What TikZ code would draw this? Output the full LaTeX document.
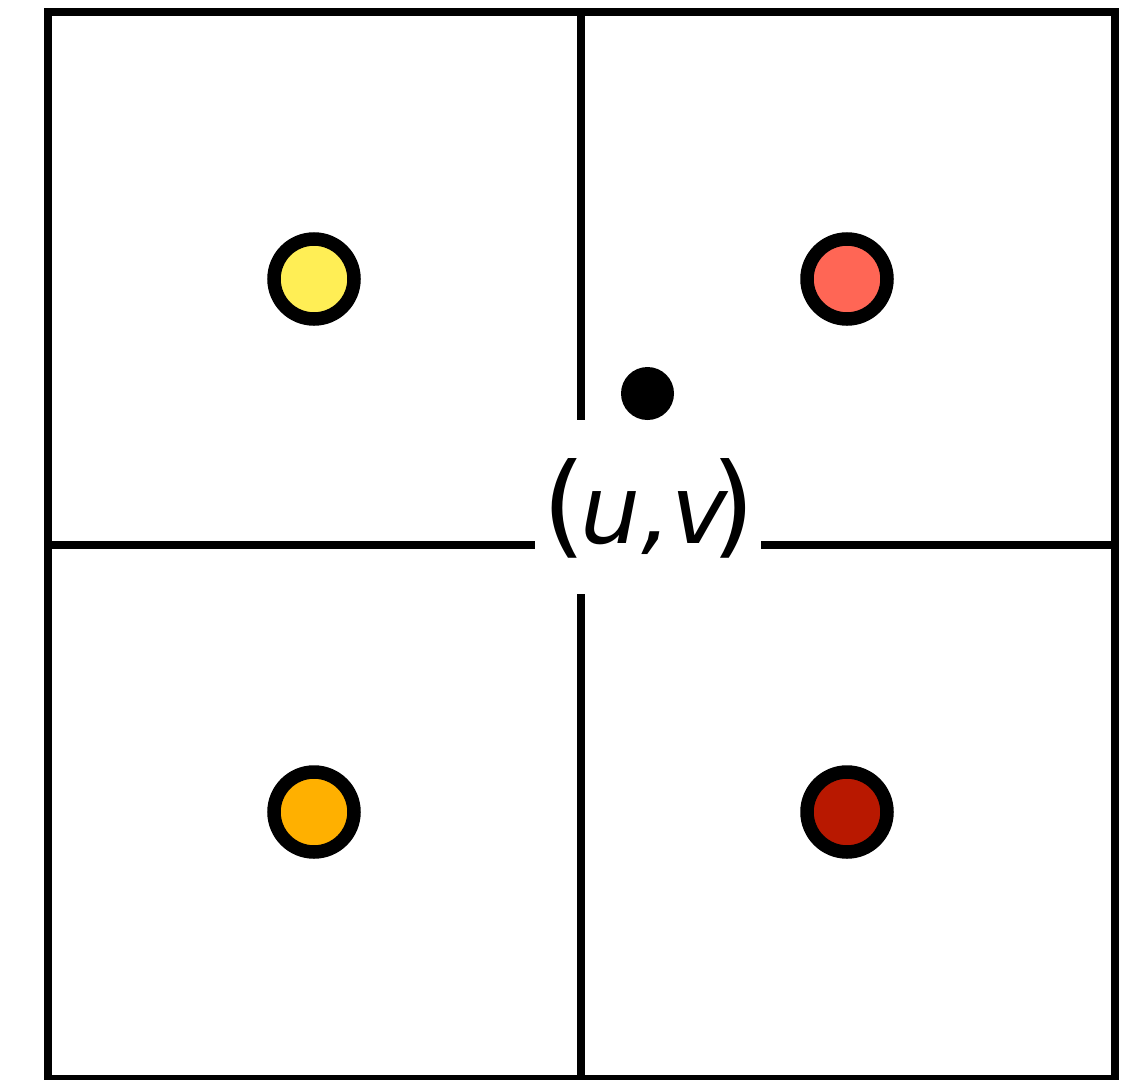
\documentclass[tikz,border=0pt]{standalone}
\usepackage{fontspec}
\newfontfamily\dvsans{DejaVu Sans}
\newfontfamily\dvsansit{DejaVu Sans Oblique}
\definecolor{cyellow}{RGB}{255,238,85}
\definecolor{ccoral}{RGB}{255,102,85}
\definecolor{corange}{RGB}{255,176,0}
\definecolor{cdarkred}{RGB}{184,24,0}
\newcommand{\parfont}{\fontsize{112}{130}\selectfont\dvsans}
\newcommand{\varfont}{\fontsize{95}{110}\selectfont\dvsansit}
\tikzset{
  frame/.style={line width=8pt},
  gridline/.style={line width=8pt},
  pixel/.style={circle, draw=black, line width=13.5pt, minimum size=80pt, inner sep=0pt},
  sample/.style={circle, fill=black, minimum size=53pt, inner sep=0pt},
  labelbox/.style={fill=white, inner sep=0pt, minimum width=226pt, minimum height=174pt,
                   text height=0pt, text depth=0pt}
}
\begin{document}
\begin{tikzpicture}[x=1pt, y=-1pt]
\useasboundingbox (0,0) rectangle (1143,1079);
\coordinate (tl) at (48,12);
\coordinate (br) at (1115,1079);
\coordinate (vt) at (581,12);
\coordinate (vb) at (581,1079);
\coordinate (hl) at (48,545);
\coordinate (hr) at (1115,545);
\draw[gridline] (vt) -- (vb);
\draw[gridline] (hl) -- (hr);
\draw[frame] (tl) rectangle (br);
\node[pixel, fill=cyellow] (p00) at (314,279) {};
\node[pixel, fill=ccoral] (p10) at (847,279) {};
\node[pixel, fill=corange] (p01) at (314,812) {};
\node[pixel, fill=cdarkred] (p11) at (847,812) {};
\node[labelbox] (uv) at (648,507) {\raisebox{-36pt}{\makebox[0pt][l]{\hspace*{-105.6pt}%
  {\parfont(}\kern-5.4pt{\varfont u}\kern1.1pt{\varfont ,}\kern-1pt{\varfont v}\kern-16.4pt{\parfont)}}}};
\node[sample] (s) at (647.5,393.5) {};
\end{tikzpicture}
\end{document}
